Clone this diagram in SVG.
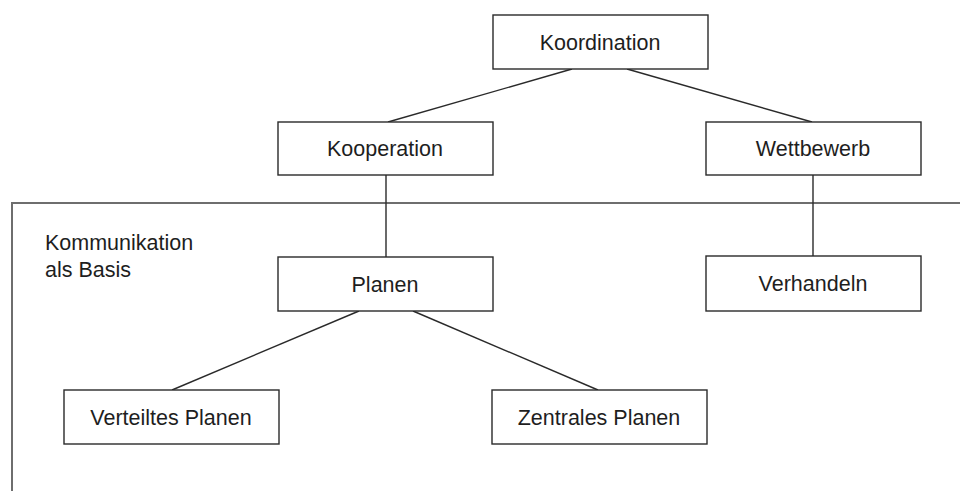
<svg xmlns="http://www.w3.org/2000/svg" width="960" height="491" viewBox="0 0 960 491">
  <style>
    .box { fill: #ffffff; stroke: #2a2a2a; stroke-width: 1.4; }
    .lbl { font-family: "Liberation Sans", Arial, sans-serif; font-size: 21.5px; fill: #1e1e1e; text-anchor: middle; }
    .note { font-family: "Liberation Sans", Arial, sans-serif; font-size: 21.5px; fill: #1e1e1e; }
    .conn { stroke: #2a2a2a; stroke-width: 1.4; fill: none; }
    .frame { fill: none; stroke: #6e6e6e; stroke-width: 2; }
  </style>
  <rect width="960" height="491" fill="#ffffff"/>

  <!-- Region enclosing the communication-based nodes -->
  <g id="region">
    <rect class="frame" x="12" y="203" width="1000" height="320"/>
    <text class="note" x="45" y="250">Kommunikation</text>
    <text class="note" x="45" y="277">als Basis</text>
  </g>

  <g id="connectors">
    <line class="conn" x1="572" y1="69" x2="388" y2="122"/>
    <line class="conn" x1="627" y1="69" x2="812" y2="122"/>
    <line class="conn" x1="386" y1="175" x2="386" y2="257"/>
    <line class="conn" x1="813" y1="175" x2="813" y2="256"/>
    <line class="conn" x1="359" y1="311" x2="172" y2="390"/>
    <line class="conn" x1="413" y1="311" x2="598" y2="390"/>
  </g>

  <g id="koordination">
    <rect class="box" x="493" y="15" width="215" height="54"/>
    <text class="lbl" x="600" y="50">Koordination</text>
  </g>
  <g id="kooperation">
    <rect class="box" x="278" y="122" width="215" height="53"/>
    <text class="lbl" x="385" y="156">Kooperation</text>
  </g>
  <g id="wettbewerb">
    <rect class="box" x="706" y="122" width="215" height="53"/>
    <text class="lbl" x="813" y="156">Wettbewerb</text>
  </g>
  <g id="planen">
    <rect class="box" x="278" y="257" width="215" height="54"/>
    <text class="lbl" x="385" y="292">Planen</text>
  </g>
  <g id="verhandeln">
    <rect class="box" x="706" y="256" width="215" height="55"/>
    <text class="lbl" x="813" y="291">Verhandeln</text>
  </g>
  <g id="verteiltes-planen">
    <rect class="box" x="64" y="390" width="215" height="54"/>
    <text class="lbl" x="171" y="425">Verteiltes Planen</text>
  </g>
  <g id="zentrales-planen">
    <rect class="box" x="492" y="390" width="215" height="54"/>
    <text class="lbl" x="599" y="425">Zentrales Planen</text>
  </g>
</svg>
